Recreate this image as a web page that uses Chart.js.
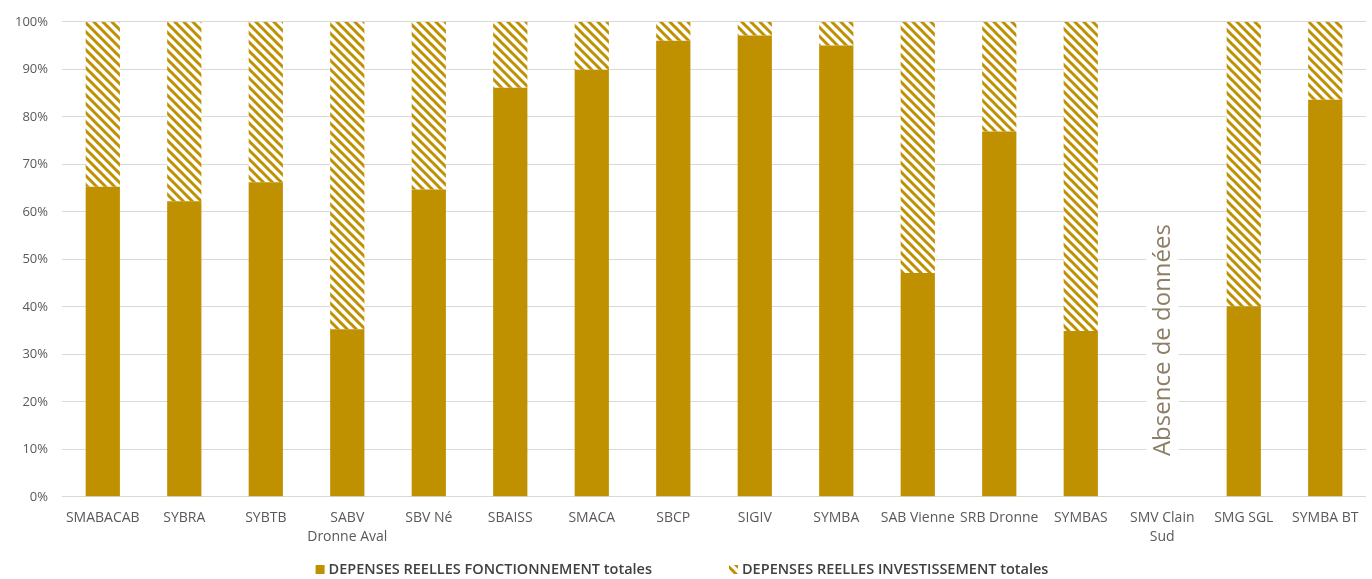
<!DOCTYPE html>
<html>
<head>
<meta charset="utf-8">
<script src="https://cdn.jsdelivr.net/npm/chart.js@4/dist/chart.umd.min.js"></script>
<style>
  html, body { margin: 0; padding: 0; background: #fff; }
  #wrap { width: 1372px; height: 579px; }
</style>
</head>
<body>
<div id="wrap"><canvas id="graphic"></canvas></div>
<script>
const categories = ["SMABACAB", "SYBRA", "SYBTB", ["SABV", "Dronne Aval"], "SBV Né", "SBAISS", "SMACA", "SBCP", "SIGIV", "SYMBA", "SAB Vienne", "SRB Dronne", "SYMBAS", ["SMV Clain", "Sud"], "SMG SGL", "SYMBA BT"];
const fonctionnement = [65.3, 62.2, 66.2, 35.3, 64.7, 86.1, 89.9, 96.0, 97.1, 95.0, 47.1, 76.9, 34.9, null, 40.1, 83.6];
const investissement = [34.7, 37.8, 33.8, 64.7, 35.3, 13.9, 10.1, 4.0, 2.9, 5.0, 52.9, 23.1, 65.1, null, 59.9, 16.4];
const yTicks = [0, 10, 20, 30, 40, 50, 60, 70, 80, 90, 100];
const missingLabel = "Absence de données";
const missingIndex = 13;

const gold = "#BF9000";

function hatch() {
  const s = 9;
  const c = document.createElement("canvas");
  c.width = s; c.height = s;
  const g = c.getContext("2d");
  g.fillStyle = "#fff";
  g.fillRect(0, 0, s, s);
  g.strokeStyle = gold;
  g.lineWidth = 3;
  g.beginPath();
  g.moveTo(-2, -2); g.lineTo(s + 2, s + 2);
  g.moveTo(-s - 2, -2); g.lineTo(2, s + 2);
  g.moveTo(-2, -s - 2); g.lineTo(s + 2, 2);
  g.stroke();
  return g.createPattern(c, "repeat");
}
const hatchFill = hatch();

// "Absence de données" label, vertical, over the empty column
const missingPlugin = {
  id: "missing",
  afterDatasetsDraw(chart) {
    const ctx = chart.ctx;
    const x = chart.scales.x.getPixelForValue(missingIndex);
    const y = chart.scales.y.getPixelForValue(33);
    ctx.save();
    ctx.translate(x, y);
    ctx.rotate(-Math.PI / 2);
    ctx.font = "24px 'Open Sans'";
    const w = ctx.measureText(missingLabel).width;
    ctx.fillStyle = "#fff";
    ctx.fillRect(-w / 2 - 4, -16, w + 8, 32);
    ctx.fillStyle = "#8C7F66";
    ctx.textAlign = "center";
    ctx.textBaseline = "middle";
    ctx.fillText(missingLabel, 0, 1);
    ctx.restore();
  }
};

// bottom legend, drawn by hand to get the wide gap between the two items
const legendPlugin = {
  id: "bottomLegend",
  afterDraw(chart) {
    const ctx = chart.ctx;
    const y = chart.height - 9;
    const gap = 77;
    ctx.save();
    ctx.font = "600 14.5px 'Open Sans'";
    ctx.textBaseline = "middle";
    const items = chart.data.datasets.map(d => ({ text: d.label, fill: d.backgroundColor, w: 13 + ctx.measureText(d.label).width }));
    const total = items.reduce((a, it) => a + it.w, 0) + gap * (items.length - 1);
    let x = chart.width / 2 - total / 2 - 4;
    items.forEach(it => {
      ctx.fillStyle = it.fill;
      ctx.fillRect(x, y - 5, 9, 9);
      ctx.fillStyle = "#404040";
      ctx.fillText(it.text, x + 13, y);
      x += it.w + gap;
    });
    ctx.restore();
  }
};

Chart.defaults.font.family = "'Open Sans', sans-serif";
Chart.defaults.color = "#595959";

new Chart(document.getElementById("graphic").getContext("2d"), {
  type: "bar",
  data: {
    labels: categories,
    datasets: [{
      label: "DEPENSES REELLES FONCTIONNEMENT totales",
      data: fonctionnement,
      backgroundColor: gold,
      categoryPercentage: 1,
      barPercentage: 0.42
    }, {
      label: "DEPENSES REELLES INVESTISSEMENT totales",
      data: investissement,
      backgroundColor: hatchFill,
      categoryPercentage: 1,
      barPercentage: 0.42
    }]
  },
  options: {
    responsive: true,
    maintainAspectRatio: false,
    animation: false,
    layout: { padding: { left: 1, right: 6, top: 9, bottom: 29 } },
    plugins: {
      legend: { display: false },
      tooltip: { enabled: false }
    },
    scales: {
      x: {
        stacked: true,
        grid: { display: false },
        border: { display: false },
        ticks: { font: { size: 14, lineHeight: 1.4 }, maxRotation: 0, autoSkip: false, padding: 3 }
      },
      y: {
        stacked: true,
        min: 0,
        max: 100,
        afterBuildTicks(axis) { axis.ticks = yTicks.map(v => ({ value: v })); },
        grid: { color: "#D9D9D9", lineWidth: 1, drawTicks: false },
        border: { display: false },
        ticks: { font: { size: 13 }, padding: 14, callback: v => v + "%" }
      }
    }
  },
  plugins: [missingPlugin, legendPlugin]
});
</script>
</body>
</html>
